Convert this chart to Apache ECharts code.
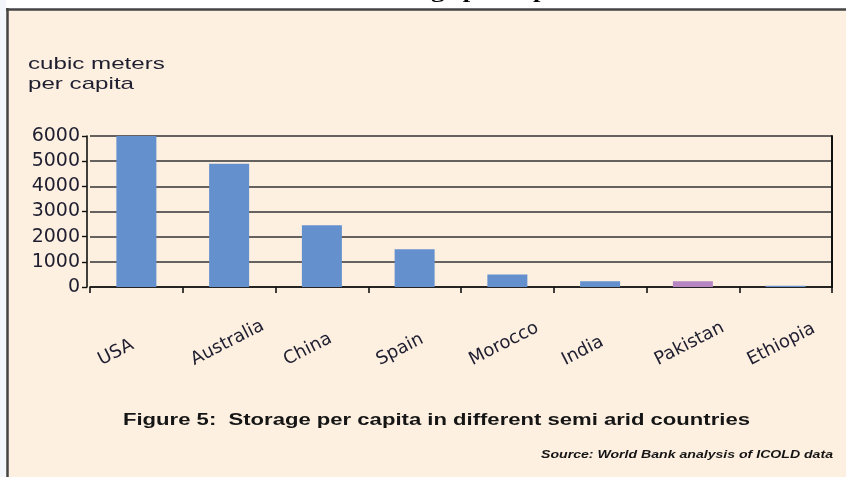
<!DOCTYPE html>
<html>
<head>
<meta charset="utf-8">
<script src="https://cdn.jsdelivr.net/npm/echarts@6/dist/echarts.min.js"></script>
<style>
html,body{margin:0;padding:0;background:#fff;}
#chart{width:846px;height:477px;}
</style>
</head>
<body>
<div id="chart"></div>
<script>
// ---- data ----
const categories = ['USA', 'Australia', 'China', 'Spain', 'Morocco', 'India', 'Pakistan', 'Ethiopia'];
const storagePerCapita = [6000, 4900, 2450, 1500, 500, 230, 230, 50];
const yTickLabels = ['0', '1000', '2000', '3000', '4000', '5000', '6000'];
const yUnitLines = ['cubic meters', 'per capita'];
const figureCaption = 'Figure 5:  Storage per capita in different semi arid countries';
const sourceNote = 'Source: World Bank analysis of ICOLD data';
const clippedTitle = 'Storage per capita';
const highlightedCategory = 'Pakistan';

// ---- styles ----
const barBlue = '#6491cd';
const barPurple = '#b785c1';
const inkColor = '#1e1e30';
const gridColor = '#333333';

const yMin = Number(yTickLabels[0]);
const yMax = Number(yTickLabels[yTickLabels.length - 1]);
const yStep = Number(yTickLabels[1]) - Number(yTickLabels[0]);

const chart = echarts.init(document.getElementById('chart'), null, { renderer: 'canvas' });

const option = {
  animation: false,
  backgroundColor: '#fdf0e1',
  grid: [
    { left: 90, right: 14, top: 136, bottom: 190 },
    { left: 57, right: 47, top: 136, bottom: 190 }
  ],
  xAxis: [
    {
      type: 'category',
      gridIndex: 0,
      data: categories,
      offset: 3,
      axisLine: { show: true, lineStyle: { color: '#111', width: 1.6 } },
      axisTick: { show: true, length: 6, lineStyle: { color: '#111', width: 1.6 } },
      axisLabel: { show: false },
      splitLine: { show: false }
    },
    {
      type: 'category',
      gridIndex: 1,
      data: categories,
      axisLine: { show: false },
      axisTick: { show: false },
      axisLabel: {
        show: true,
        interval: 0,
        rotate: 27,
        align: 'left',
        verticalAlign: 'bottom',
        margin: 82,
        fontFamily: 'DejaVu Sans',
        fontSize: 18,
        color: inkColor
      }
    }
  ],
  yAxis: [
    {
      type: 'value',
      gridIndex: 0,
      min: yMin,
      max: yMax,
      interval: yStep,
      offset: 3,
      axisLine: { show: true, lineStyle: { color: '#111', width: 1.6 } },
      axisTick: { show: true, length: 5, lineStyle: { color: '#111', width: 1.4 } },
      axisLabel: {
        margin: 7,
        fontFamily: 'DejaVu Sans',
        fontSize: 19,
        color: inkColor,
        formatter: (v) => yTickLabels[Math.round((v - yMin) / yStep)]
      },
      splitLine: { show: true, lineStyle: { color: gridColor, width: 1.6 } }
    },
    {
      type: 'value',
      gridIndex: 0,
      position: 'right',
      min: yMin,
      max: yMax,
      interval: yStep,
      axisLine: { show: true, lineStyle: { color: '#111', width: 2 } },
      axisTick: { show: false },
      axisLabel: { show: false },
      splitLine: { show: false }
    },
    {
      type: 'value',
      gridIndex: 1,
      show: false,
      min: yMin,
      max: yMax
    }
  ],
  series: [
    {
      type: 'bar',
      xAxisIndex: 0,
      yAxisIndex: 0,
      barWidth: 40,
      data: storagePerCapita.map((v, i) => ({
        value: v,
        itemStyle: { color: categories[i] === highlightedCategory ? barPurple : barBlue }
      }))
    }
  ],
  graphic: [
    // white strips outside the frame
    { type: 'rect', z: 100, silent: true, shape: { x: 0, y: 0, width: 846, height: 9 }, style: { fill: '#ffffff' } },
    { type: 'rect', z: 100, silent: true, shape: { x: 0, y: 0, width: 6, height: 477 }, style: { fill: '#f3f6fa' } },
    // clipped heading above the frame (only descenders visible)
    {
      type: 'text', z: 101, silent: true, x: 369, y: 2.5, scaleX: 1.4,
      style: { text: clippedTitle, font: 'bold 19px "Liberation Serif"', fill: '#000', textAlign: 'left', textVerticalAlign: 'bottom' }
    },
    // frame border
    { type: 'line', z: 102, silent: true, shape: { x1: 6, y1: 9.5, x2: 846, y2: 9.5 }, style: { stroke: '#444', lineWidth: 2.5 } },
    { type: 'line', z: 102, silent: true, shape: { x1: 7.5, y1: 8, x2: 7.5, y2: 477 }, style: { stroke: '#444', lineWidth: 2.5 } },
    // unit label
    {
      type: 'text', z: 101, silent: true, x: 28, y: 64, scaleX: 1.42,
      style: { text: yUnitLines[0], font: '17px "Liberation Sans"', fill: inkColor, textAlign: 'left', textVerticalAlign: 'middle' }
    },
    {
      type: 'text', z: 101, silent: true, x: 28, y: 84, scaleX: 1.42,
      style: { text: yUnitLines[1], font: '17px "Liberation Sans"', fill: inkColor, textAlign: 'left', textVerticalAlign: 'middle' }
    },
    // caption
    {
      type: 'text', z: 101, silent: true, x: 123, y: 421, scaleX: 1.38,
      style: { text: figureCaption, font: 'bold 16px "Liberation Sans"', fill: '#151515', textAlign: 'left', textVerticalAlign: 'middle' }
    },
    // source
    {
      type: 'text', z: 101, silent: true, x: 833, y: 455, scaleX: 1.41,
      style: { text: sourceNote, font: 'italic bold 10px "Liberation Sans"', fill: '#151515', textAlign: 'right', textVerticalAlign: 'middle' }
    }
  ]
};

chart.setOption(option);
</script>
</body>
</html>
